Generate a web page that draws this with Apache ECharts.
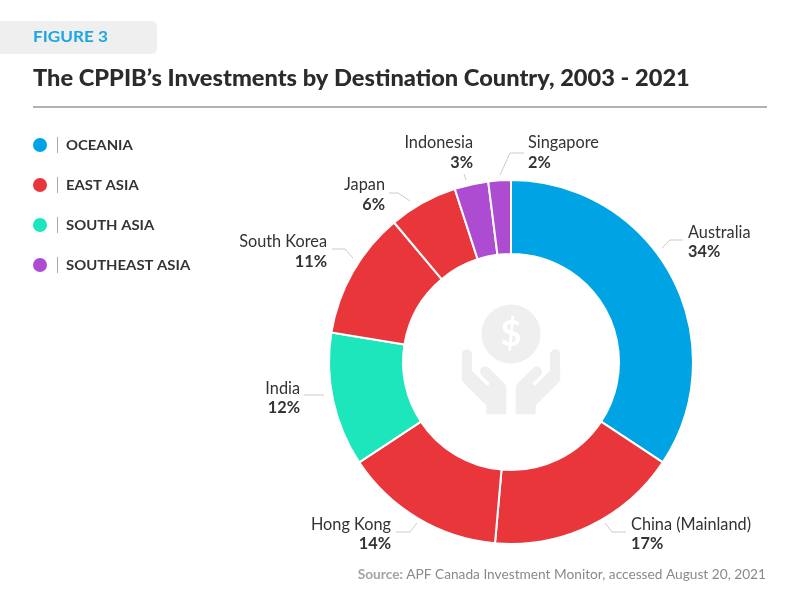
<!DOCTYPE html>
<html><head><meta charset="utf-8">
<style>html,body{margin:0;padding:0;background:#fff}#c{width:800px;height:600px}</style>
<script src="https://cdn.jsdelivr.net/npm/echarts@6/dist/echarts.min.js"></script>
</head><body><div id="c"></div>
<script>
const figureTag = 'FIGURE 3';
const titleText = 'The CPPIB\u2019s Investments by Destination Country, 2003 - 2021';
const sourceLabel = 'Source:';
const sourceText = 'APF Canada Investment Monitor, accessed August 20, 2021';
const regions = ['OCEANIA', 'EAST ASIA', 'SOUTH ASIA', 'SOUTHEAST ASIA'];
const regionColors = ['#00A3E4', '#E8363B', '#1DE5BC', '#AE4CD1'];
const countries = ['Australia', 'China (Mainland)', 'Hong Kong', 'India', 'South Korea', 'Japan', 'Indonesia', 'Singapore'];
const shares = [34.3, 17.1, 14.3, 11.9, 11.3, 6.1, 3, 2];
const shareLabels = ['34%', '17%', '14%', '12%', '11%', '6%', '3%', '2%'];
const countryRegion = [0, 1, 1, 2, 1, 1, 3, 3];

const FONT = 'Lato, "Noto Sans", sans-serif';
const INK = '#333333';
const ICON = '#EFEFEF';
const handPoints = [[68,250],[72,242],[80,239],[88,242],[94,250],[94,303],[138,347],[146,349],[150,342],[148,336],[124,312],[122,302],[126,295],[133,291],[141,292],[146,296],[190,340],[196,348],[197,358],[197,431],[141,431],[141,405],[72,337],[67,328]];

// label anchors and leader-line paths, per slice
const labelPlacement = [
  {x:688, y:242,   align:'left',  line:[[662,248],[670,240],[683,240]]},
  {x:631, y:534,   align:'left',  line:[[605,523],[612,532],[626,532]]},
  {x:391, y:534,   align:'right', line:[[417,523],[410,532],[396,532]]},
  {x:300, y:398,   align:'right', line:[[324,395],[314,395],[304,395]]},
  {x:327, y:251.5, align:'right', line:[[353,258],[345,249],[332,249]]},
  {x:385, y:194.5, align:'right', line:[[410,201],[398,193],[389,193]]},
  {x:473, y:152.5, align:'right', line:[[466,180],[465,177],[464,174]]},
  {x:528, y:152.5, align:'left',  line:[[500,175],[510,153],[524,153]]}
];

const legendEls = [];
regions.forEach((r, i) => {
  const y = 145 + i * 40;
  legendEls.push({type:'circle', shape:{cx:40, cy:y, r:7}, style:{fill:regionColors[i]}});
  legendEls.push({type:'line', shape:{x1:57.5, y1:y-8, x2:57.5, y2:y+8}, style:{stroke:'#aaaaaa', lineWidth:1}});
  legendEls.push({type:'text', x:66, y:y+1, scaleX:1.1, style:{text:r, fill:INK, font:'700 13.5px '+FONT, textVerticalAlign:'middle', textAlign:'left'}});
});

const chart = echarts.init(document.getElementById('c'), null, {renderer:'canvas'});
chart.setOption({
  animation:false,
  backgroundColor:'#fff',
  graphic:[
    {type:'rect', shape:{x:-6, y:21, width:163, height:33, r:5}, style:{fill:'#EFEFEF'}},
    {type:'text', x:33, y:36.5, scaleX:1.07, style:{text:figureTag, fill:'#1AA7E3', font:'700 16px '+FONT, textVerticalAlign:'middle'}},
    {type:'text', x:33, y:78.5, scaleX:1.05, style:{text:titleText, fill:'#2B2B2B', font:'900 22.5px '+FONT, textVerticalAlign:'middle'}},
    {type:'line', shape:{x1:33, y1:107, x2:767, y2:107}, style:{stroke:'#999999', lineWidth:1.5}},
    ...legendEls,
    {type:'circle', z:10, shape:{cx:511, cy:334, r:29.5}, style:{fill:ICON}},
    {type:'text', z:11, x:511, y:334, style:{text:'$', fill:'#fff', font:'700 36px '+FONT, textAlign:'center', textVerticalAlign:'middle'}},
    {type:'polygon', z:10, shape:{points:handPoints}, x:440, y:270, scaleX:1/3, scaleY:1/3, style:{fill:ICON, stroke:ICON, lineWidth:4, lineJoin:'round'}},
    {type:'polygon', z:10, shape:{points:handPoints}, x:582, y:270, scaleX:-1/3, scaleY:1/3, style:{fill:ICON, stroke:ICON, lineWidth:4, lineJoin:'round'}},
    {type:'text', x:766, y:575, style:{
      text:'{a|'+sourceLabel+'} {b|'+sourceText+'}', textAlign:'right', textVerticalAlign:'middle',
      rich:{a:{fontFamily:'Lato', fontWeight:700, fontSize:13.7, fill:'#a5a5a5'},
            b:{fontFamily:'Lato', fontSize:13.7, fill:'#8a8a8a'}}}}
  ],
  series:[{
    type:'pie',
    center:[511,362],
    radius:[108,182],
    startAngle:90,
    clockwise:true,
    avoidLabelOverlap:false,
    itemStyle:{borderColor:'#fff', borderWidth:2},
    label:{
      position:'outside', fontFamily:'Lato', fontSize:16.3, color:INK, lineHeight:19.5,
      formatter:p => p.name + '\n{v|' + shareLabels[p.dataIndex] + '}',
      rich:{v:{fontFamily:'Lato', fontWeight:700, fontSize:16.3, color:INK, lineHeight:19.5}}
    },
    labelLine:{show:true, length:12, length2:12, lineStyle:{color:'#cccccc', width:1}},
    labelLayout:p => {
      const l = labelPlacement[p.dataIndex];
      return {x:l.x, y:l.y, align:l.align, verticalAlign:'middle', labelLinePoints:l.line};
    },
    data:countries.map((n,i)=>({name:n, value:shares[i], itemStyle:{color:regionColors[countryRegion[i]]}}))
  }]
});
</script></body></html>
